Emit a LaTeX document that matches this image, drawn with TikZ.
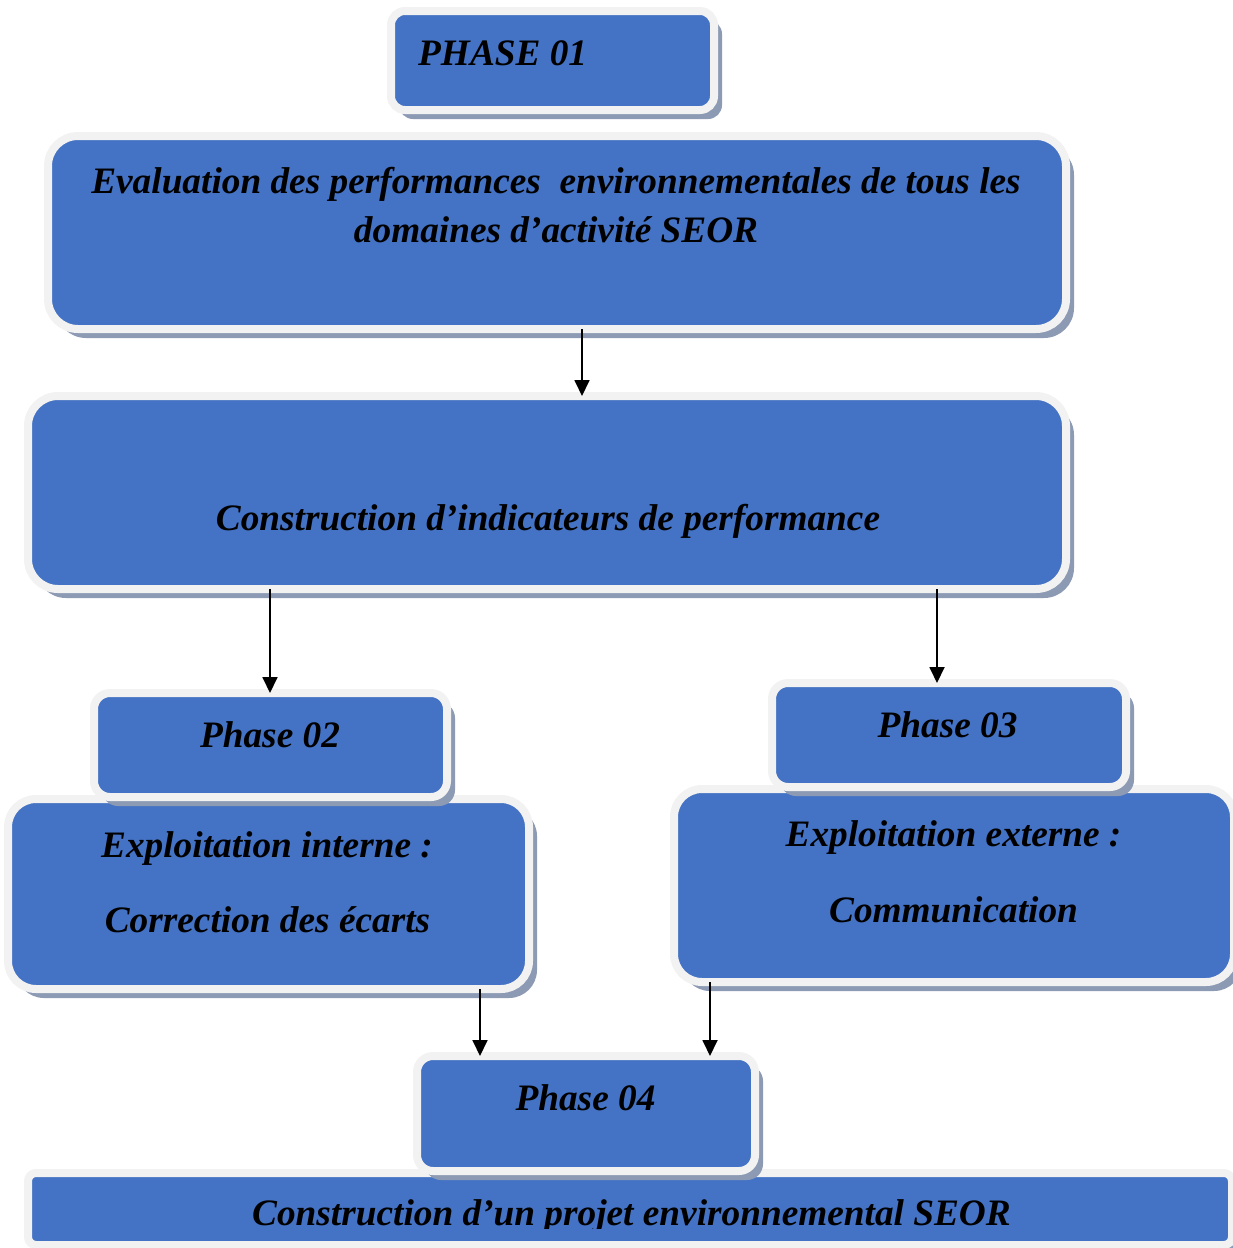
\documentclass[tikz,border=0pt]{standalone}
\usepackage{fontspec}
\setmainfont{Liberation Serif}
\usetikzlibrary{arrows.meta,shadows}
\definecolor{boxblue}{HTML}{4472C4}
\definecolor{boxrim}{HTML}{F2F2F2}
\definecolor{boxshade}{HTML}{8D9AB4}
\begin{document}
\begin{tikzpicture}[x=1pt,y=-1pt,
  phasebox/.style={rectangle, inner sep=0pt, outer sep=0pt, fill=boxblue, draw=boxrim,
    line width=8pt, rounded corners=#1,
    drop shadow={shadow xshift=8pt, shadow yshift=-9pt, fill=boxshade, opacity=1}},
  phasebox/.default=14pt,
  lbl/.style={anchor=base, font=\fontsize{37.3}{49}\selectfont\bfseries\itshape,
    inner sep=0pt, align=center},
  arr/.style={line width=1.8pt, -{Triangle[width=15pt,length=16pt]}}]
\useasboundingbox (0,0) rectangle (1233,1248);
\clip (0,0) rectangle (1233,1248);

% boxes
\node[phasebox=14pt, minimum width=323, minimum height=99] (p1) at (552.5,60.5) {};
\node[phasebox=30pt, minimum width=1018, minimum height=193] (eval) at (557,232.5) {};
\node[phasebox=30pt, minimum width=1038, minimum height=193] (constr) at (547,492.5) {};
\node[phasebox=28pt, minimum width=521, minimum height=190] (int) at (268.5,894) {};
\node[phasebox=16pt, minimum width=353, minimum height=104] (p2) at (270.5,745) {};
\node[phasebox=28pt, minimum width=560, minimum height=193] (ext) at (954,885.5) {};
\node[phasebox=16pt, minimum width=354, minimum height=104] (p3) at (949,735) {};
\node[phasebox=8pt, minimum width=1204, minimum height=72] (proj) at (630,1209) {};
\node[phasebox=16pt, minimum width=338, minimum height=115] (p4) at (586,1113.5) {};

% texts
\node[lbl, anchor=base west] (tp1) at (418,65) {PHASE 01};
\node[lbl] (te1) at (556,193) {Evaluation des performances\ \ environnementales de tous les};
\node[lbl] (te2) at (556,242) {domaines d’activité SEOR};
\node[lbl] (tc) at (548,530) {Construction d’indicateurs de performance};
\node[lbl] (tp2) at (270,747) {Phase 02};
\node[lbl] (ti1) at (267,857) {Exploitation interne :};
\node[lbl] (ti2) at (267.5,932) {Correction des écarts};
\node[lbl] (tp3) at (947.5,737) {Phase 03};
\node[lbl] (tx1) at (953.5,846) {Exploitation externe :};
\node[lbl] (tx2) at (953.5,922) {Communication};
\node[lbl] (tp4) at (585.5,1110) {Phase 04};
\begin{scope}
  \clip (0,1170) rectangle (1233,1228);
  \node[lbl] (tpr) at (631.5,1225) {Construction d’un projet environnemental SEOR};
\end{scope}

% connectors
\coordinate (xa) at (582,0);
\coordinate (xb) at (270,0);
\coordinate (xc) at (937,0);
\coordinate (xd) at (480,0);
\coordinate (xe) at (710,0);
\draw[arr] (eval.south -| xa) -- (constr.north -| xa);
\draw[arr] (constr.south -| xb) -- (p2.north -| xb);
\draw[arr] (constr.south -| xc) -- (p3.north -| xc);
\draw[arr] (int.south -| xd) -- (p4.north -| xd);
\draw[arr] (ext.south -| xe) -- (p4.north -| xe);
\end{tikzpicture}
\end{document}
